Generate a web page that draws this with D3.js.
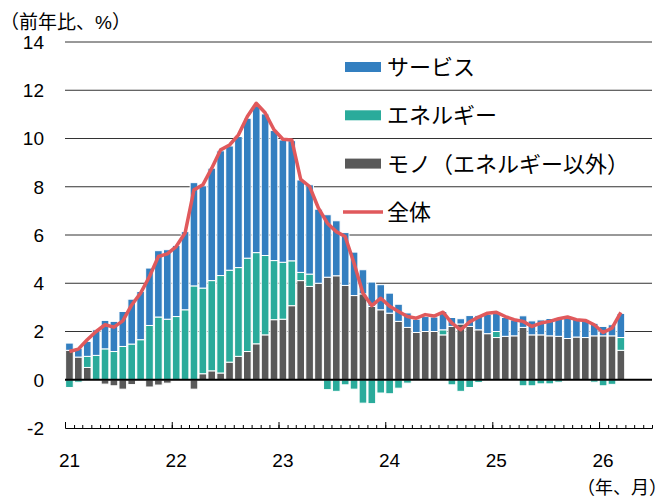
<!DOCTYPE html>
<html>
<head>
<meta charset="utf-8">
<script src="https://cdn.jsdelivr.net/npm/d3@7"></script>
<style>
body{margin:0;background:#fff;}
svg text{font-family:"Liberation Sans",Arial,"Noto Sans CJK JP",sans-serif;fill:#000;}
</style>
</head>
<body>
<div id="chart"></div>
<script>
// 前年比寄与度（%）、2021年1月〜2026年3月
let goods = [
    1.22, 0.94, 0.51, 0.00, -0.18, -0.25, -0.39, -0.20, 0.00, -0.30, -0.22, -0.14,
    0.00, 0.00, -0.39, 0.25, 0.37, 0.28, 0.73, 0.97, 1.17, 1.49, 1.86, 2.49,
    2.51, 3.07, 4.11, 3.87, 4.00, 4.25, 4.31, 3.91, 3.49, 3.56, 3.04, 2.90,
    2.76, 2.42, 2.17, 1.96, 2.00, 2.00, 1.86, 2.21, 2.31, 2.21, 2.07, 1.91,
    1.75, 1.80, 1.82, 2.17, 1.86, 1.86, 1.82, 1.80, 1.71, 1.77, 1.75, 1.82,
    1.82, 1.82, 1.22
];
let energy = [
    -0.32, -0.10, 0.46, 1.01, 1.28, 1.17, 1.38, 1.48, 1.66, 2.25, 2.60, 2.51,
    2.62, 2.90, 3.89, 3.55, 3.74, 4.04, 3.81, 3.68, 3.87, 3.78, 3.29, 2.45,
    2.36, 1.86, 0.34, 0.51, 0.00, -0.41, -0.48, -0.21, -0.39, -0.97, -0.99, -0.55,
    -0.58, -0.35, -0.14, 0.00, 0.00, 0.00, 0.21, -0.21, -0.48, -0.32, -0.11, 0.00,
    0.25, 0.00, 0.00, -0.25, -0.25, -0.17, -0.17, -0.10, 0.00, 0.00, 0.00, -0.10,
    -0.25, -0.19, 0.53
];
let services = [
    0.30, 0.37, 0.62, 1.06, 1.18, 1.25, 1.45, 1.86, 2.00, 2.38, 2.75, 2.88,
    2.95, 3.24, 4.28, 4.24, 4.66, 5.17, 5.15, 5.43, 5.80, 6.08, 5.87, 5.39,
    5.07, 4.98, 3.83, 3.70, 3.07, 2.59, 2.28, 2.19, 1.80, 1.00, 1.01, 1.04,
    0.83, 0.71, 0.60, 0.55, 0.62, 0.60, 0.76, 0.37, 0.22, 0.45, 0.60, 0.80,
    0.76, 0.78, 0.66, 0.48, 0.58, 0.62, 0.72, 0.78, 0.89, 0.75, 0.74, 0.52,
    0.39, 0.46, 1.00
];
let total = [
    1.17, 1.27, 1.66, 2.00, 2.28, 2.18, 2.44, 3.10, 3.59, 4.28, 5.11, 5.22,
    5.52, 6.08, 7.87, 8.08, 8.77, 9.53, 9.73, 10.15, 10.91, 11.46, 11.07, 10.36,
    9.97, 9.94, 8.31, 8.01, 7.11, 6.49, 6.14, 5.94, 4.83, 3.59, 3.07, 3.38,
    3.05, 2.83, 2.62, 2.55, 2.70, 2.64, 2.80, 2.35, 2.07, 2.40, 2.60, 2.76,
    2.80, 2.62, 2.49, 2.42, 2.21, 2.35, 2.42, 2.53, 2.60, 2.49, 2.46, 2.28,
    1.96, 2.14, 2.79
];
let yTicks = [-2, 0, 2, 4, 6, 8, 10, 12, 14];
let yearLabels = ["21", "22", "23", "24", "25", "26"];
let legendNames = ["サービス", "エネルギー", "モノ（エネルギー以外）", "全体"];

class StackBar {
    constructor(option) {
        for (let [key, value] of Object.entries(option)) {
            this[key] = value;
        }
        this.svg = null;
        this.g = null;
        this.left = 65;
        this.right = 652;
        this.top = 42;
        this.bottom = 428;
        this.colors = {goods: "#595959", energy: "#2aab9b", services: "#337fc0", total: "#e0595c"};
        this.creatSvg();
        this.creatScale();
        this.creatGrid();
        this.creatRect();
        this.creatLine();
        this.creatAxis();
        this.creatLegend();
    }
    creatSvg() {
        this.svg = d3.select(this.ele)
            .append("svg")
            .attr("width", this.width)
            .attr("height", this.height);
        this.g = this.svg.append("g");
    }
    creatScale() {
        // 2021年1月〜2026年6月の月
        this.months = d3.timeMonths(new Date(2021, 0, 1), new Date(2026, 6, 1));
        this.x = d3.scaleBand()
            .domain(this.months.map(d => +d))
            .range([this.left, this.right])
            .paddingInner(0.14)
            .paddingOuter(0.07);
        this.xt = d3.scaleTime()
            .domain([new Date(2021, 0, 1), new Date(2026, 6, 1)])
            .range([this.left, this.right]);
        this.y = d3.scaleLinear()
            .domain([-2, 14])
            .range([this.bottom, this.top]);
    }
    creatGrid() {
        let _this = this;
        this.g.append("g")
            .selectAll("line")
            .data(yTicks.filter(d => d > 0))
            .join("line")
            .attr("x1", this.left)
            .attr("x2", this.right)
            .attr("y1", d => _this.y(d))
            .attr("y2", d => _this.y(d))
            .attr("stroke", "#333")
            .attr("stroke-width", 1);
        this.g.append("g")
            .selectAll("text")
            .data(yTicks)
            .join("text")
            .attr("x", 44)
            .attr("y", d => _this.y(d))
            .attr("dy", "0.36em")
            .attr("text-anchor", "end")
            .style("font-size", "19px")
            .text(d => d);
        this.svg.append("text")
            .attr("x", 0)
            .attr("y", 22)
            .attr("dy", "0.36em")
            .style("font-size", "19px")
            .text("（前年比、%）");
    }
    creatRect() {
        let _this = this;
        let rows = this.goods.map((d, i) => ({
            date: +_this.months[i],
            goods: d,
            energy: _this.energy[i],
            services: _this.services[i]
        }));
        let stack = d3.stack()
            .keys(["goods", "energy", "services"])
            .offset(d3.stackOffsetDiverging)(rows);
        this.g.append("g")
            .selectAll("g")
            .data(stack)
            .join("g")
            .attr("fill", d => _this.colors[d.key])
            .selectAll("rect")
            .data(d => d.filter(v => v[1] !== v[0]))
            .join("rect")
            .attr("x", d => _this.x(d.data.date))
            .attr("width", _this.x.bandwidth())
            .attr("y", d => _this.y(d[1]))
            .attr("height", d => _this.y(d[0]) - _this.y(d[1]))
            .attr("stroke", "#fff")
            .attr("stroke-width", 1);
        // ゼロ線
        this.g.append("line")
            .attr("x1", this.left)
            .attr("x2", this.right)
            .attr("y1", this.y(0))
            .attr("y2", this.y(0))
            .attr("stroke", "#000")
            .attr("stroke-width", 2);
    }
    creatLine() {
        let _this = this;
        let line = d3.line()
            .x((d, i) => _this.x(+_this.months[i]) + _this.x.bandwidth() / 2)
            .y(d => _this.y(d));
        this.g.append("path")
            .datum(this.total)
            .attr("d", line)
            .attr("fill", "none")
            .attr("stroke", this.colors.total)
            .attr("stroke-width", 3.5)
            .attr("stroke-linejoin", "round");
    }
    creatAxis() {
        let _this = this;
        let monthAxis = d3.axisBottom(this.xt)
            .ticks(d3.timeMonth.every(1))
            .tickSize(-3)
            .tickSizeOuter(-3)
            .tickFormat("");
        let yearAxis = d3.axisBottom(this.xt)
            .ticks(d3.timeYear.every(1))
            .tickSize(-6)
            .tickFormat("");
        let ga = this.g.append("g")
            .attr("transform", `translate(0,${this.bottom})`)
            .call(monthAxis);
        ga.selectAll("path,line").attr("stroke", "#000");
        let gy = this.g.append("g")
            .attr("transform", `translate(0,${this.bottom})`)
            .call(yearAxis);
        gy.select(".domain").remove();
        gy.selectAll("line").attr("stroke", "#000");
        this.g.append("g")
            .selectAll("text")
            .data(yearLabels)
            .join("text")
            .attr("x", d => _this.x(+new Date(2000 + (+d), 0, 1)) + _this.x.bandwidth() / 2)
            .attr("y", 460)
            .attr("dy", "0.36em")
            .attr("text-anchor", "middle")
            .style("font-size", "19px")
            .text(d => d);
        this.svg.append("text")
            .attr("x", 667)
            .attr("y", 488)
            .attr("dy", "0.36em")
            .attr("text-anchor", "end")
            .style("font-size", "18px")
            .text("（年、月）");
    }
    creatLegend() {
        let keys = ["services", "energy", "goods", "total"];
        let _this = this;
        let lg = this.svg.append("g");
        let item = lg.selectAll("g")
            .data(legendNames)
            .join("g")
            .attr("transform", (d, i) => `translate(345,${67 + i * 48.3})`);
        item.filter((d, i) => i < 3)
            .append("rect")
            .attr("x", 0)
            .attr("y", -5)
            .attr("width", 36)
            .attr("height", 10)
            .attr("fill", (d, i) => _this.colors[keys[i]]);
        item.filter((d, i) => i === 3)
            .append("line")
            .attr("x1", -2)
            .attr("x2", 38)
            .attr("stroke", this.colors.total)
            .attr("stroke-width", 3.5);
        item.append("text")
            .attr("x", 42)
            .attr("dy", "0.36em")
            .style("font-size", "22px")
            .text(d => d);
    }
}

let chart = new StackBar({
    ele: document.getElementById("chart"),
    width: 668,
    height: 501,
    goods: goods,
    energy: energy,
    services: services,
    total: total
});
</script>
</body>
</html>
